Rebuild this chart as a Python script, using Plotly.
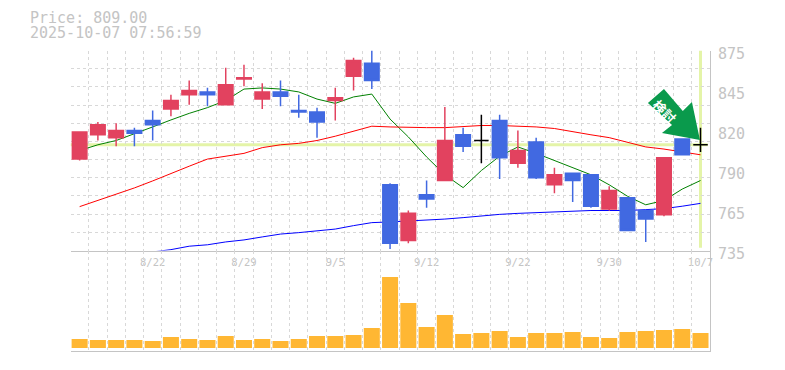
import plotly.graph_objects as go

dates = ["8/18","8/19","8/20","8/21","8/22","8/25","8/26","8/27","8/28","8/29",
         "9/1","9/2","9/3","9/4","9/5","9/8","9/9","9/10","9/11","9/12",
         "9/16","9/17","9/18","9/19","9/22","9/24","9/25","9/26","9/29","9/30",
         "10/1","10/2","10/3","10/6","10/7"]
open_ = [799,816,814,819,826,834,844,846,837,855,841,846,833,832,840,857,866,781,742,774,
         784,816,812,826,796,811,781,789,788,764,772,763,760,813,809]
high = [818,825,824,821,833,844,854,849,863,865,852,854,844,835,849,870,875,782,763,784,
        835.5,821,830,830,819,814,793,789,788,780,772,763,800,813,821]
low = [798,812,808,808,812,829,837,836,837,850,834,836,828,814,826,847,848,736,740,765,
       784,804,796,785,793,785,775,769,765,763,749,741,759,802,804]
close = [818,823,819,817,823,840,847,844,851,856,846,843,832,825,842,868,854,740,761,771,
         812,808,812,800,805,786,788,784,766,777,749,757,800,802,809]
ma_short = [805,809,812,816.5,821.5,826.4,831,835,840,848,848.8,848,846,841,838,842.5,844.5,
            827,814.5,800.5,788,779,791,801,807.5,803,798,793,788,781,773,767,770,778,784]
ma_mid = [765.7,770,774.5,778.8,783.7,789,794,799,801,803,807,809,810,812,815,818.6,822,
          821.5,821,821,821,822,822.5,822.5,822,821.5,820.4,818,816,814,811,807.5,806,804,802]
ma_long = [None,None,None,None,734,735.6,738,739,741,742.4,744.5,746.5,747.5,749,750,752.4,754.5,
           755,755.6,756.4,757,758,759.4,760.3,761,761.5,762.4,763,763,763,763,763.6,764.3,766,768]
volume = [9,8,8,8,7,11,9,8,12,8,9,7,9,12,12,13,20,71,45,21,33,14,15,17,11,15,15,16,11,10,16,17,18,19,15]
price_ticks = [875,847,819,791,763,735]
price_labels = ["875","845","820","790","765","735"]
tick_index = [4,9,14,19,24,29,34]
last_price = 809.00
header = ["Price: 809.00", "2025-10-07 07:56:59"]
arrow_label = "検討"
arrow_x = [32.0, 31.12, 32.44, 31.89, 33.97, 33.53, 33.03]
arrow_y = [848.0, 838.2, 822.8, 817.2, 812.3, 838.9, 832.6]

W, H = 785, 370
GRAY = "#c4c4c4"
GRID = "#d8d8d8"
HL = "#e4f4a8"
RED = "#e2425f"
BLUE = "#4169e1"
MONO = "DejaVu Sans Mono"
xs = list(range(len(dates)))

def px(x): return x / W
def py(y): return 1 - y / H

fig = go.Figure()
for vals, col in ((ma_short, "#008000"), (ma_mid, "#ff0000"), (ma_long, "#0000ff")):
    fig.add_trace(go.Scatter(x=xs, y=vals, mode="lines", line=dict(color=col, width=1),
                             cliponaxis=False, showlegend=False, hoverinfo="skip"))

groups = (([i for i in xs if close[i] > open_[i]], RED),
          ([i for i in xs if close[i] < open_[i]], BLUE),
          ([i for i in xs if close[i] == open_[i]], "#000000"))
for idx, col in groups:
    style = dict(line=dict(color=col, width=1.5), fillcolor=col)
    fig.add_trace(go.Candlestick(
        x=idx, open=[open_[i] for i in idx], high=[high[i] for i in idx],
        low=[low[i] for i in idx], close=[close[i] for i in idx], yaxis="y3",
        increasing=style, decreasing=style, whiskerwidth=0, showlegend=False, hoverinfo="skip"))

fig.add_trace(go.Scatter(x=arrow_x, y=arrow_y, yaxis="y3", mode="lines", fill="toself",
                         fillcolor="#0a9a4c", line=dict(color="#0a9a4c", width=0),
                         showlegend=False, hoverinfo="skip"))

fig.add_trace(go.Bar(x=xs, y=volume, xaxis="x2", yaxis="y2", width=0.877,
                     marker=dict(color="#ffb733", line_width=0), showlegend=False, hoverinfo="skip"))

fig.add_shape(type="line", layer="below", xref="x", yref="y", x0=-0.5, x1=34.4,
              y0=last_price, y1=last_price, line=dict(color=HL, width=3))
fig.add_shape(type="line", layer="below", xref="x", yref="y", x0=34, x1=34,
              y0=875, y1=737, line=dict(color=HL, width=3))

annotations = [
    dict(text=header[0], x=px(28), y=py(18)),
    dict(text=header[1], x=px(28), y=py(33)),
]
annotations = [dict(a, xref="paper", yref="paper", xanchor="left", yanchor="middle", showarrow=False,
                    font=dict(family=MONO, size=15, color=GRAY)) for a in annotations]
annotations.append(dict(text=f"<b>{arrow_label}</b>", x=px(665), y=py(111), xref="paper", yref="paper",
                        xanchor="center", yanchor="middle", showarrow=False, textangle=45,
                        font=dict(family="Noto Sans CJK JP", size=13, color="#ffffff")))

dash = "3px,3px"
xcommon = dict(range=[-0.5, 34.52], showgrid=False, zeroline=False, fixedrange=True, automargin=False,
               rangeslider=dict(visible=False), showline=True, linecolor=GRAY, linewidth=1,
               minor=dict(tick0=-0.5, dtick=1, showgrid=True, griddash=dash, gridcolor=GRID,
                          gridwidth=1, ticks=""))
ycommon = dict(side="right", showgrid=False, zeroline=False, showline=True, automargin=False,
               linecolor=GRAY, linewidth=1, fixedrange=True)
fig.update_layout(
    width=W, height=H, margin=dict(l=0, r=0, t=0, b=0),
    paper_bgcolor="#ffffff", plot_bgcolor="#ffffff",
    boxmode="overlay", boxgap=0.205, boxgroupgap=0, showlegend=False, annotations=annotations,
    xaxis=dict(xcommon, domain=[px(70.5), px(710)], anchor="y", tickmode="array",
               tickvals=tick_index, ticktext=[dates[i] for i in tick_index], ticks="",
               ticklabelstandoff=2, tickfont=dict(family=MONO, size=10.5, color=GRAY)),
    yaxis=dict(ycommon, domain=[py(250.5), py(50.5)], anchor="x", range=[735, 875], tickmode="array",
               tickvals=price_ticks, ticktext=price_labels, ticks="", ticklabelshift=3,
               ticklabelstandoff=4, tickfont=dict(family=MONO, size=15, color=GRAY),
               minor=dict(tick0=735, dtick=140 / 11, showgrid=True, griddash=dash, gridcolor=GRID,
                          gridwidth=1, ticks="")),
    yaxis3=dict(domain=[py(250.5), py(50.5)], anchor="x", overlaying="y", matches="y", side="right",
                range=[735, 875], showgrid=False, zeroline=False, showline=False,
                showticklabels=False, ticks="", fixedrange=True, automargin=False),
    xaxis2=dict(xcommon, domain=[px(70.5), px(710)], anchor="y2", matches="x", showticklabels=False, ticks=""),
    yaxis2=dict(ycommon, domain=[py(350.5), py(250.5)], anchor="x2", range=[-2.4, 97.6], showticklabels=False, ticks=""),
)
fig.write_html("out.html", config=dict(displayModeBar=False), post_script="document.body.style.margin='0';")
